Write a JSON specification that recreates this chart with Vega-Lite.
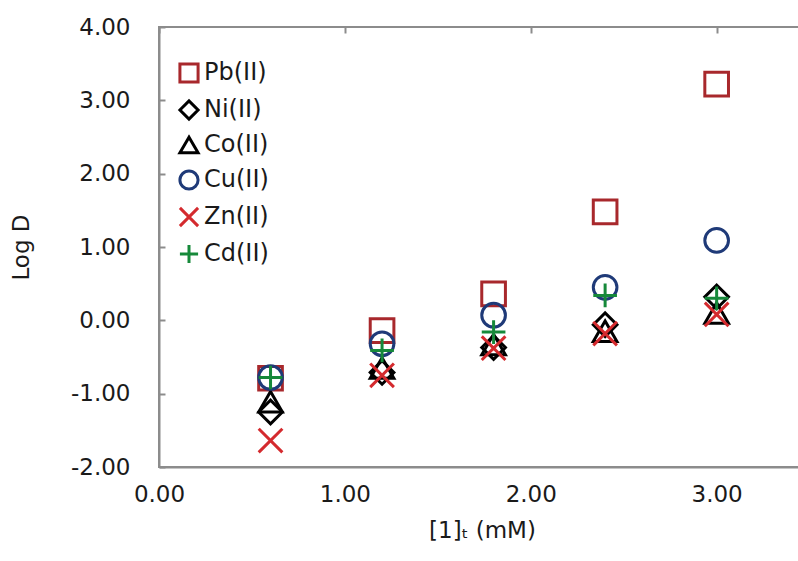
{
  "$schema": "https://vega.github.io/schema/vega-lite/v6.json",
  "autosize": {"type": "none"},
  "padding": {"left": 159, "top": 27, "right": 0, "bottom": 94},
  "width": 640,
  "height": 440,
  "background": "white",
  "config": {
    "view": {"stroke": "#8c8c8c", "strokeWidth": 2},
    "font": "DejaVu Sans"
  },
  "data": {
    "values": [
      {"conc": 0.6, "logD": -0.79, "ion": "Pb(II)"},
      {"conc": 1.2, "logD": -0.14, "ion": "Pb(II)"},
      {"conc": 1.8, "logD": 0.36, "ion": "Pb(II)"},
      {"conc": 2.4, "logD": 1.48, "ion": "Pb(II)"},
      {"conc": 3.0, "logD": 3.22, "ion": "Pb(II)"},
      {"conc": 0.6, "logD": -1.25, "ion": "Ni(II)"},
      {"conc": 1.2, "logD": -0.71, "ion": "Ni(II)"},
      {"conc": 1.8, "logD": -0.37, "ion": "Ni(II)"},
      {"conc": 2.4, "logD": -0.06, "ion": "Ni(II)"},
      {"conc": 3.0, "logD": 0.32, "ion": "Ni(II)"},
      {"conc": 0.6, "logD": -1.11, "ion": "Co(II)"},
      {"conc": 1.2, "logD": -0.65, "ion": "Co(II)"},
      {"conc": 1.8, "logD": -0.33, "ion": "Co(II)"},
      {"conc": 2.4, "logD": -0.15, "ion": "Co(II)"},
      {"conc": 3.0, "logD": 0.10, "ion": "Co(II)"},
      {"conc": 0.6, "logD": -0.78, "ion": "Cu(II)"},
      {"conc": 1.2, "logD": -0.32, "ion": "Cu(II)"},
      {"conc": 1.8, "logD": 0.07, "ion": "Cu(II)"},
      {"conc": 2.4, "logD": 0.45, "ion": "Cu(II)"},
      {"conc": 3.0, "logD": 1.09, "ion": "Cu(II)"},
      {"conc": 0.6, "logD": -1.64, "ion": "Zn(II)"},
      {"conc": 1.2, "logD": -0.75, "ion": "Zn(II)"},
      {"conc": 1.8, "logD": -0.38, "ion": "Zn(II)"},
      {"conc": 2.4, "logD": -0.18, "ion": "Zn(II)"},
      {"conc": 3.0, "logD": 0.08, "ion": "Zn(II)"},
      {"conc": 0.6, "logD": -0.78, "ion": "Cd(II)"},
      {"conc": 1.2, "logD": -0.41, "ion": "Cd(II)"},
      {"conc": 1.8, "logD": -0.16, "ion": "Cd(II)"},
      {"conc": 2.4, "logD": 0.34, "ion": "Cd(II)"},
      {"conc": 3.0, "logD": 0.30, "ion": "Cd(II)"}
    ]
  },
  "mark": {"type": "point", "filled": false, "strokeWidth": 3, "size": 560, "opacity": 1},
  "encoding": {
    "x": {
      "field": "conc",
      "type": "quantitative",
      "scale": {"domain": [0, 3.443], "nice": false, "zero": false},
      "axis": {
        "values": [0, 1, 2, 3],
        "format": ".2f",
        "labelExpr": "replace(datum.label, '−', '-')",
        "grid": true,
        "gridColor": "#8c8c8c",
        "gridWidth": 2,
        "gridDash": [6, 3000],
        "ticks": false,
        "tickSize": 0,
        "domainColor": "#8c8c8c",
        "domainWidth": 2,
        "labelPadding": 16,
        "labelFontSize": 23,
        "labelColor": "#1a1a1a",
        "labelFlush": false,
        "title": "[1]ₜ (mM)",
        "titleFontSize": 23,
        "titleFontWeight": "normal",
        "titleColor": "#1a1a1a",
        "titlePadding": 13,
        "titleX": 323
      }
    },
    "y": {
      "field": "logD",
      "type": "quantitative",
      "scale": {"domain": [-2, 4], "nice": false, "zero": false},
      "axis": {
        "values": [-2, -1, 0, 1, 2, 3, 4],
        "format": ".2f",
        "labelExpr": "replace(datum.label, '−', '-')",
        "grid": true,
        "gridColor": "#8c8c8c",
        "gridWidth": 2,
        "gridDash": [6, 3000],
        "ticks": false,
        "tickSize": 0,
        "domainColor": "#8c8c8c",
        "domainWidth": 2,
        "labelPadding": 29,
        "labelFontSize": 23,
        "labelColor": "#1a1a1a",
        "labelFlush": false,
        "title": "Log D",
        "titleFontSize": 23,
        "titleFontWeight": "normal",
        "titleColor": "#1a1a1a",
        "titleX": -126
      }
    },
    "shape": {
      "field": "ion",
      "type": "nominal",
      "sort": null,
      "scale": {
        "domain": ["Pb(II)", "Ni(II)", "Co(II)", "Cu(II)", "Zn(II)", "Cd(II)"],
        "range": ["square", "diamond", "triangle-up", "circle", "M-1,-1L1,1M-1,1L1,-1", "M-1,0L1,0M0,-1L0,1"]
      },
      "legend": {
        "orient": "none",
        "legendX": 18,
        "legendY": 34,
        "title": null,
        "labelFontSize": 24,
        "labelColor": "#1a1a1a",
        "symbolSize": 330,
        "symbolStrokeWidth": 3,
        "symbolFillColor": "transparent",
        "labelOffset": 3,
        "rowPadding": 5
      }
    },
    "color": {
      "field": "ion",
      "type": "nominal",
      "sort": null,
      "scale": {
        "domain": ["Pb(II)", "Ni(II)", "Co(II)", "Cu(II)", "Zn(II)", "Cd(II)"],
        "range": ["#A8282C", "#000000", "#000000", "#1F3A78", "#D42A2E", "#16893A"]
      },
      "legend": {
        "orient": "none",
        "legendX": 18,
        "legendY": 34,
        "title": null,
        "labelFontSize": 24,
        "labelColor": "#1a1a1a",
        "symbolSize": 330,
        "symbolStrokeWidth": 3,
        "symbolFillColor": "transparent",
        "labelOffset": 3,
        "rowPadding": 5
      }
    }
  }
}
